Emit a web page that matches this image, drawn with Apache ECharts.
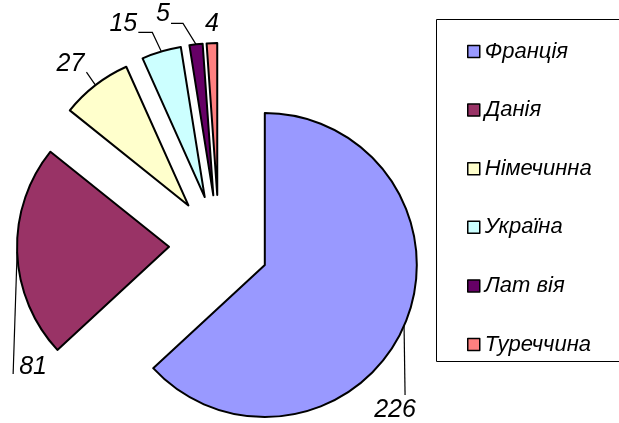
<!DOCTYPE html>
<html>
<head>
<meta charset="utf-8">
<script src="https://cdn.jsdelivr.net/npm/echarts@6/dist/echarts.min.js"></script>
<style>
  html, body { margin: 0; padding: 0; background: #fff; }
  #chart { width: 619px; height: 423px; }
</style>
</head>
<body>
<div id="chart"></div>
<script>
// ---- data ----
const categories = ['Франція', 'Данія', 'Німечинна', 'Україна', 'Лат вія', 'Туреччина'];
const values = [226, 81, 27, 15, 5, 4];
const colors = ['#9999FF', '#993366', '#FFFFCC', '#CCFFFF', '#660066', '#FF8080'];

// ---- layout / style ----
const CX = 219, CY = 245, R = 152, OFF = 50;
// leader geometry relative to the slice's outer mid-point: line bends, label centre
const leaders = [
  { pts: [[1, 69]], label: [-9, 84] },
  { pts: [[-4, 122]], label: [16, 115] },
  { pts: [[-9, -13]], label: [-25, -21] },
  { pts: [[-9, -19], [-23, -19]], label: [-38, -27] },
  { pts: [[-13, -21], [-25, -21]], label: [-33, -30] },
  { pts: [], label: [0, -19] }
];

const total = values.reduce((a, b) => a + b, 0);
let acc = 0;
const anchors = values.map(v => {
  const a0 = acc / total * Math.PI * 2;
  acc += v;
  const a1 = acc / total * Math.PI * 2;
  const m = (a0 + a1) / 2;
  return [CX + (R + OFF) * Math.sin(m), CY - (R + OFF) * Math.cos(m)];
});

const chart = echarts.init(document.getElementById('chart'), null, { renderer: 'canvas' });
const font = '"Liberation Sans", Arial, sans-serif';

chart.setOption({
  animation: false,
  color: colors,
  legend: {
    orient: 'vertical',
    left: 467,
    top: 40,
    padding: 0,
    itemGap: 35.6,
    itemWidth: 12,
    itemHeight: 12,
    icon: 'rect',
    selectedMode: false,
    itemStyle: { borderColor: '#000', borderWidth: 1.5 },
    textStyle: { fontFamily: font, fontStyle: 'italic', fontSize: 22, lineHeight: 23, color: '#000' },
    data: categories
  },
  graphic: [{
    type: 'rect',
    shape: { x: 436.5, y: 19.5, width: 200, height: 342 },
    style: { fill: 'none', stroke: '#000', lineWidth: 1 },
    z: -1
  }],
  series: [{
    // exploded slices
    type: 'pie',
    center: [CX, CY],
    radius: R,
    startAngle: 90,
    clockwise: true,
    selectedMode: 'multiple',
    selectedOffset: OFF,
    avoidLabelOverlap: false,
    emphasis: { disabled: true },
    itemStyle: { borderColor: '#000', borderWidth: 2 },
    select: { itemStyle: { borderColor: '#000', borderWidth: 2 } },
    label: { show: false },
    labelLine: { show: false },
    data: categories.map((name, i) => ({ name: name, value: values[i], selected: true }))
  }, {
    // value labels with leader lines
    type: 'pie',
    silent: true,
    center: [CX, CY],
    radius: R,
    startAngle: 90,
    clockwise: true,
    avoidLabelOverlap: false,
    emphasis: { disabled: true },
    itemStyle: { color: 'rgba(0,0,0,0)', borderWidth: 0 },
    label: {
      show: true,
      position: 'outside',
      formatter: '{c}',
      fontFamily: font,
      fontStyle: 'italic',
      fontSize: 25,
      color: '#000'
    },
    labelLine: { show: true, lineStyle: { color: '#000', width: 1.2 } },
    labelLayout: function (params) {
      const i = params.dataIndex;
      const p = anchors[i];
      const L = leaders[i];
      const pts = [p].concat(L.pts.map(d => [p[0] + d[0], p[1] + d[1]]));
      const out = {
        x: p[0] + L.label[0],
        y: p[1] + L.label[1],
        align: 'center',
        verticalAlign: 'middle'
      };
      if (pts.length > 1) out.labelLinePoints = pts;
      return out;
    },
    data: categories.map((name, i) => ({
      name: name,
      value: values[i],
      labelLine: { show: leaders[i].pts.length > 0 }
    }))
  }]
});
</script>
</body>
</html>
